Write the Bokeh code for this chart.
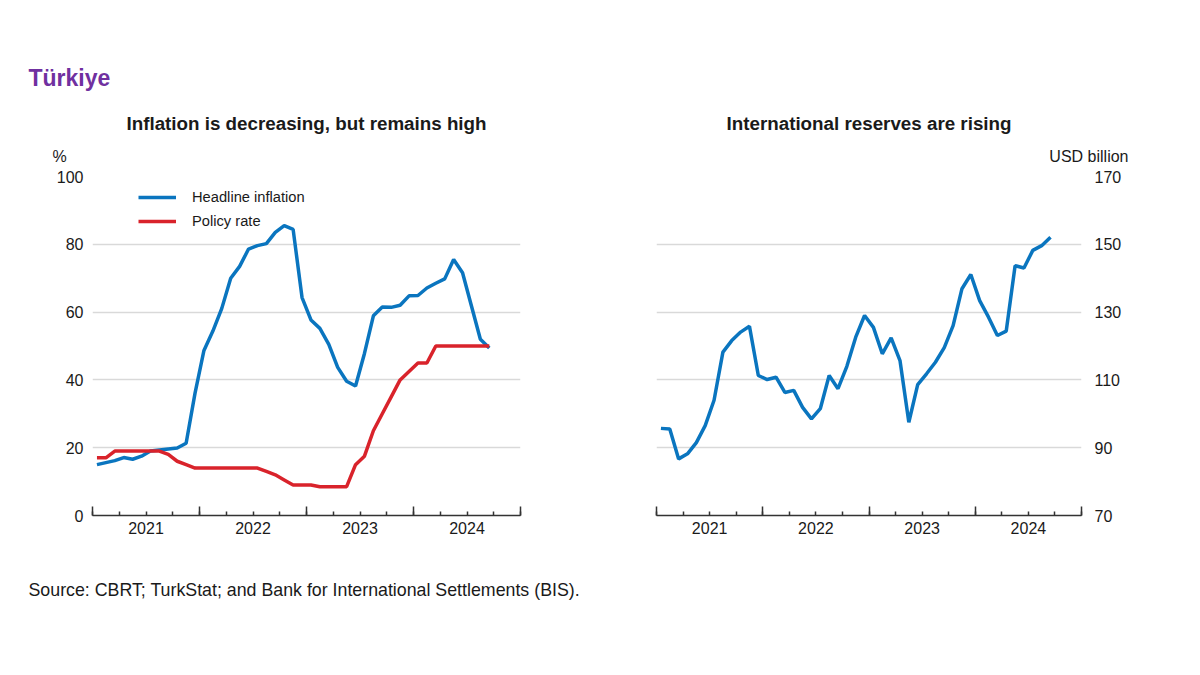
import numpy as np
from bokeh.plotting import figure
from bokeh.models import (Range1d, LinearAxis, FixedTicker, Title, Legend, LegendItem, Grid)
from bokeh.layouts import row
from bokeh.embed import file_html
from bokeh.resources import INLINE

# ---------------- data ----------------
years = [2021, 2022, 2023, 2024]
year_labels = ["2021", "2022", "2023", "2024"]
# monthly, Jan 2021 .. Sep 2024
headline_inflation = [
    15.0, 15.6, 16.2, 17.1, 16.6, 17.5, 19.0, 19.3, 19.6, 19.9, 21.3, 36.1,
    48.7, 54.4, 61.1, 70.0, 73.5, 78.6, 79.6, 80.2, 83.5, 85.5, 84.4, 64.3,
    57.7, 55.2, 50.5, 43.7, 39.6, 38.2, 47.8, 58.9, 61.5, 61.4, 62.0, 64.8,
    64.9, 67.1, 68.5, 69.8, 75.5, 71.6, 61.8, 52.0, 49.4,
]
policy_rate = [
    17.0, 17.0, 19.0, 19.0, 19.0, 19.0, 19.0, 19.0, 18.0, 16.0, 15.0, 14.0,
    14.0, 14.0, 14.0, 14.0, 14.0, 14.0, 14.0, 13.0, 12.0, 10.5, 9.0, 9.0,
    9.0, 8.5, 8.5, 8.5, 8.5, 15.0, 17.5, 25.0, 30.0, 35.0, 40.0, 42.5,
    45.0, 45.0, 50.0, 50.0, 50.0, 50.0, 50.0, 50.0, 50.0,
]
reserves = [
    95.7, 95.5, 86.7, 88.2, 91.5, 96.5, 104.0, 118.2, 121.6, 124.1, 125.8, 111.3,
    110.1, 110.8, 106.3, 106.9, 101.9, 98.5, 101.5, 111.3, 107.4, 114.0, 122.6, 129.0,
    125.5, 117.7, 122.4, 115.7, 97.5, 108.6, 111.8, 115.2, 119.5, 126.0, 136.9, 141.1,
    133.4, 128.5, 123.1, 124.4, 143.7, 143.0, 148.2, 149.6, 152.1,
]
left_ticks = [0, 20, 40, 60, 80, 100]
right_ticks = [70, 90, 110, 130, 150, 170]

n = len(headline_inflation)
x = [2021 + (i + 0.5) / 12.0 for i in range(n)]

FONT = "Liberation Sans"
BLUE = "#0a75bf"
RED = "#d9232b"
PURPLE = "#7030a0"
TXT = "#1a1a1a"
GRID = "#d9d9d9"

year_edges = [2021, 2022, 2023, 2024, 2025]
quarters = [2021 + q / 4.0 for q in range(17)]
mid_years = [y + 0.5 for y in years]


def base_fig(ymin, ymax, yticks, side, min_left, min_right, fwidth):
    p = figure(frame_width=fwidth, frame_height=339,
               x_range=Range1d(2021, 2025), y_range=Range1d(ymin, ymax),
               x_axis_type=None, y_axis_type=None,
               output_backend="svg", toolbar_location=None,
               min_border_left=min_left, min_border_right=min_right,
               min_border_top=176, min_border_bottom=125)
    p.outline_line_color = None
    p.background_fill_color = "white"
    p.border_fill_color = "white"

    yax = LinearAxis(ticker=FixedTicker(ticks=yticks),
                     axis_line_color=None, major_tick_line_color=None,
                     minor_tick_line_color=None,
                     major_label_standoff=3 if side == "left" else 7,
                     major_label_text_font=FONT,
                     major_label_text_font_size="16px",
                     major_label_text_color=TXT)
    p.add_layout(yax, side)

    grid = Grid(dimension=1, ticker=FixedTicker(ticks=yticks[1:]),
                grid_line_color=GRID, grid_line_width=1.5)
    p.add_layout(grid)

    tick_axis = LinearAxis(ticker=FixedTicker(ticks=year_edges, minor_ticks=quarters),
                           axis_line_color="#333333", axis_line_width=1.5,
                           major_tick_line_color="#333333", major_tick_line_width=1.5,
                           major_tick_in=9, major_tick_out=0,
                           minor_tick_line_color="#333333", minor_tick_line_width=1.5,
                           minor_tick_in=4, minor_tick_out=0,
                           major_label_overrides={t: "" for t in year_edges},
                           major_label_text_font_size="0px",
                           major_label_standoff=0)
    p.add_layout(tick_axis, "below")
    label_axis = LinearAxis(ticker=FixedTicker(ticks=mid_years),
                            axis_line_color=None, major_tick_line_color=None,
                            minor_tick_line_color=None,
                            major_label_overrides={m: l for m, l in zip(mid_years, year_labels)},
                            major_label_standoff=0,
                            major_label_text_font=FONT,
                            major_label_text_font_size="16px",
                            major_label_text_color=TXT)
    p.add_layout(label_axis, "below")
    return p


# ---------------- left panel ----------------
p1 = base_fig(0, 100, left_ticks, "left", 92, 70, 428)
r_inf = p1.line(x, headline_inflation, line_color=BLUE, line_width=3.5)
r_pol = p1.line(x, policy_rate, line_color=RED, line_width=3.5)

legend = Legend(items=[LegendItem(label="Headline inflation", renderers=[r_inf]),
                       LegendItem(label="Policy rate", renderers=[r_pol])],
                location=(46, 284), border_line_color=None,
                background_fill_alpha=0, glyph_width=38, glyph_height=20,
                label_height=20, label_standoff=16, spacing=4, padding=0, margin=0,
                label_text_font=FONT, label_text_font_size="14.7px",
                label_text_color=TXT)
p1.add_layout(legend)

p1.add_layout(Title(text="%", align="left", offset=-40, standoff=24, text_font=FONT,
                    text_font_size="16px", text_font_style="normal",
                    text_color=TXT), "above")
p1.add_layout(Title(text="Inflation is decreasing, but remains high", align="center",
                    standoff=0, text_font=FONT, text_font_size="18.8px",
                    text_font_style="bold", text_color=TXT), "above")
p1.add_layout(Title(text="Türkiye", align="left", offset=-64, standoff=40, text_font=FONT,
                    text_font_size="23px", text_font_style="bold",
                    text_color=PURPLE), "above")
p1.add_layout(Title(text="Source: CBRT; TurkStat; and Bank for International Settlements (BIS).",
                    align="left", offset=-64, standoff=82, text_font=FONT,
                    text_font_size="17.8px", text_font_style="normal",
                    text_color=TXT), "below")

# ---------------- right panel ----------------
p2 = base_fig(70, 170, right_ticks, "right", 66, 60, 425)
p2.line(x, reserves, line_color=BLUE, line_width=3.5)
p2.add_layout(Title(text="USD billion", align="right", offset=-47, standoff=24, text_font=FONT,
                    text_font_size="16px", text_font_style="normal",
                    text_color=TXT), "above")
p2.add_layout(Title(text="International reserves are rising", align="center",
                    standoff=0, text_font=FONT, text_font_size="18.8px",
                    text_font_style="bold", text_color=TXT), "above")

layout = row(p1, p2)
open("out.html", "w").write(file_html(layout, INLINE))
